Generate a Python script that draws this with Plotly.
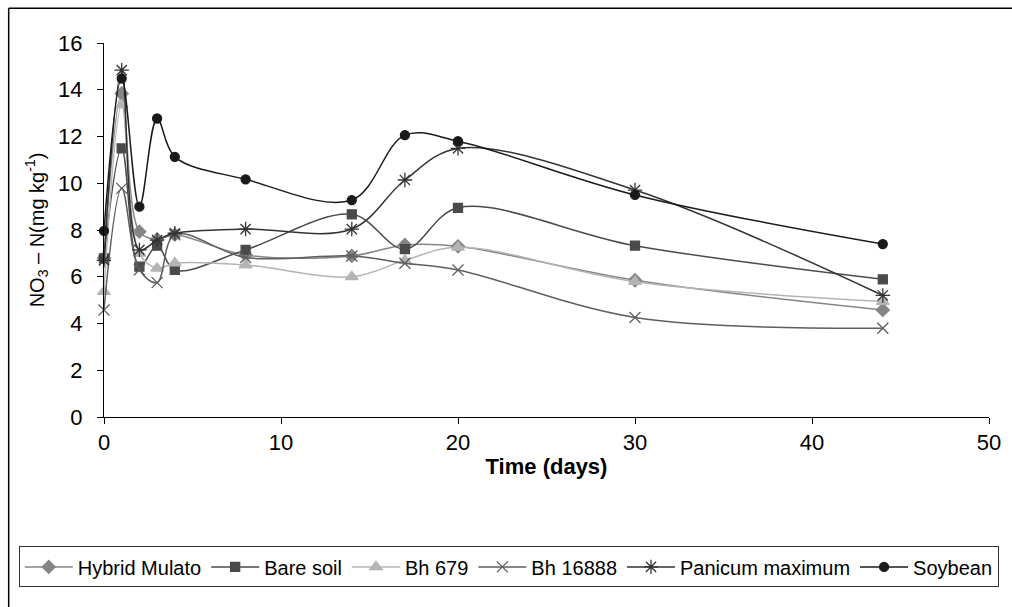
import plotly.graph_objects as go

days = [0, 1, 2, 3, 4, 8, 14, 17, 20, 30, 44]
hybrid_mulato = [6.8, 13.84, 7.93, 7.6, 7.8, 6.93, 6.89, 7.36, 7.3, 5.85, 4.58]
bare_soil = [6.79, 11.49, 6.43, 7.33, 6.29, 7.15, 8.67, 7.18, 8.95, 7.33, 5.89]
bh_679 = [5.37, 13.34, 7.0, 6.36, 6.58, 6.5, 6.0, 6.7, 7.26, 5.79, 4.94]
bh_16888 = [4.58, 9.78, 6.3, 5.75, 7.8, 6.82, 6.89, 6.58, 6.29, 4.26, 3.8]
panicum_maximum = [6.7, 14.84, 7.15, 7.57, 7.86, 8.04, 8.04, 10.14, 11.49, 9.71, 5.2]
soybean = [7.96, 14.48, 9.0, 12.77, 11.13, 10.17, 9.28, 12.06, 11.8, 9.5, 7.4]

series = [
    ("Hybrid Mulato", hybrid_mulato, "#858585", "diamond", 10),
    ("Bare soil", bare_soil, "#4a4a4a", "square", 9),
    ("Bh 679", bh_679, "#b4b4b4", "triangle-up", 11),
    ("Bh 16888", bh_16888, "#5e5e5e", "x-thin-open", 11),
    ("Panicum maximum", panicum_maximum, "#333333", "asterisk-open", 12),
    ("Soybean", soybean, "#1a1a1a", "circle", 9),
]

FONT = "Liberation Sans, Arial, sans-serif"

fig = go.Figure()
for name, vals, color, sym, size in series:
    fig.add_trace(go.Scatter(
        x=days, y=vals, name=name, mode="lines+markers",
        line=dict(color=color, width=1.5, shape="spline", smoothing=1),
        marker=dict(symbol=sym, size=size, color=color,
                    line=dict(color=color, width=1.3)),
        cliponaxis=False,
    ))

fig.update_layout(
    width=1012, height=607,
    margin=dict(l=104, r=23, t=43, b=190),
    paper_bgcolor="white", plot_bgcolor="white",
    font=dict(family=FONT, size=20, color="black"),
    showlegend=True,
    legend=dict(
        orientation="h", x=-0.0963, xanchor="left", y=-0.346, yanchor="top",
        bordercolor="#333333", borderwidth=1, font=dict(size=20, family=FONT),
        itemwidth=48, bgcolor="white",
    ),
    xaxis=dict(
        range=[0, 50], dtick=10, tick0=0, showgrid=False, zeroline=False,
        showline=True, linecolor="black", linewidth=1,
        ticks="outside", ticklen=6, tickcolor="black", tickwidth=1,
        tickfont=dict(size=22, family=FONT),
        title=dict(text="<b>Time (days)</b>", font=dict(size=22, family=FONT), standoff=4),
    ),
    yaxis=dict(
        range=[0, 16], dtick=2, tick0=0, showgrid=False, zeroline=False,
        showline=True, linecolor="black", linewidth=1,
        ticks="outside", ticklen=6, tickcolor="black", tickwidth=1,
        tickfont=dict(size=22, family=FONT), ticklabelstandoff=10,
        title=dict(text="NO<sub>3</sub> \u2013 N(mg kg<sup>-1</sup>)",
                   font=dict(size=20, family=FONT), standoff=8),
    ),
    shapes=[
        dict(type="line", xref="paper", yref="paper",
             x0=-0.1077, x1=1.12, y0=1.0926, y1=1.0926,
             line=dict(color="black", width=1.5), layer="below"),
        dict(type="line", xref="paper", yref="paper",
             x0=-0.1077, x1=-0.1077, y0=-0.6, y1=1.0926,
             line=dict(color="black", width=1.5), layer="below"),
    ],
)

fig.write_html("out.html")
